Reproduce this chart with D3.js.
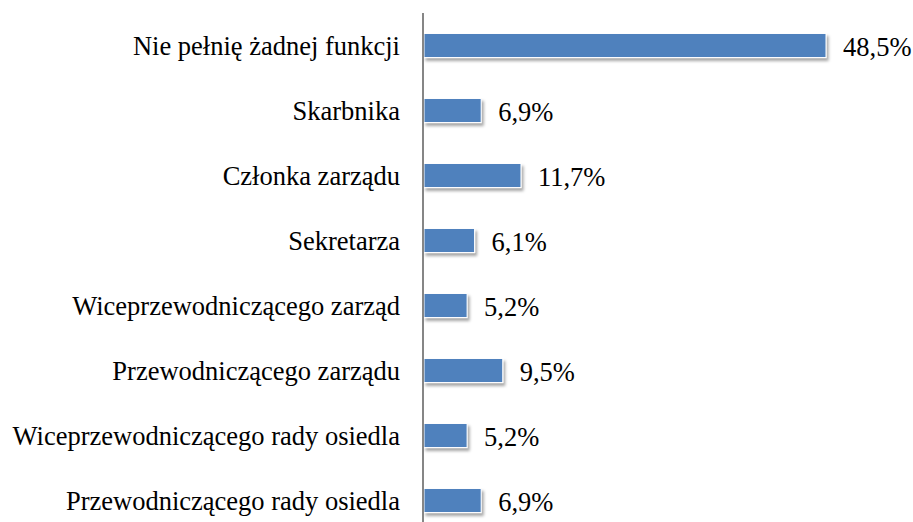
<!DOCTYPE html>
<html>
<head>
<meta charset="utf-8">
<style>
	body { margin: 0; background: #fff; }
</style>
</head>
<body>
<svg width="913" height="522"></svg>
<script src="https://cdnjs.cloudflare.com/ajax/libs/d3/7.8.5/d3.min.js"></script>
<script>

	var categories = [
		"Nie pełnię żadnej funkcji",
		"Skarbnika",
		"Członka zarządu",
		"Sekretarza",
		"Wiceprzewodniczącego zarząd",
		"Przewodniczącego zarządu",
		"Wiceprzewodniczącego rady osiedla",
		"Przewodniczącego rady osiedla"
	];
	var values = [48.5, 6.9, 11.7, 6.1, 5.2, 9.5, 5.2, 6.9];
	var valueLabels = ["48,5%", "6,9%", "11,7%", "6,1%", "5,2%", "9,5%", "5,2%", "6,9%"];

	var fontSize = 26.5;

	var svg = d3.select("svg");
	var x0 = 424;

	var x = d3.scaleLinear().domain([0, 48.5]).range([x0, 826]);
	var y = d3.scaleBand().domain(categories).range([13, 533]).paddingInner(0.63).paddingOuter(0.315);

	var defs = svg.append("defs");
	var f = defs.append("filter").attr("id", "shadow")
		.attr("x", "-10%").attr("y", "-30%").attr("width", "130%").attr("height", "190%");
	f.append("feDropShadow")
		.attr("dx", 2).attr("dy", 3).attr("stdDeviation", 1.8)
		.attr("flood-color", "#000").attr("flood-opacity", 0.35);

	var data = categories.map(function (c, i) { return { cat: c, v: values[i], lab: valueLabels[i] }; });

	svg.append("g").selectAll("rect")
		.data(data)
		.enter().append("rect")
		.attr("x", x(0))
		.attr("y", function (d) { return y(d.cat); })
		.attr("width", function (d) { return x(d.v) - x(0); })
		.attr("height", y.bandwidth())
		.attr("fill", "#4F81BD")
		.attr("stroke", "#fff")
		.attr("stroke-width", 1)
		.attr("filter", "url(#shadow)");

	// axis line
	svg.append("line")
		.attr("x1", x0 - 1).attr("x2", x0 - 1)
		.attr("y1", 13).attr("y2", 522)
		.attr("stroke", "#868686").attr("stroke-width", 2);

	svg.append("g").selectAll("text")
		.data(data)
		.enter().append("text")
		.attr("x", 400)
		.attr("y", function (d) { return y(d.cat) + y.bandwidth() / 2; })
		.attr("dy", "0.35em")
		.attr("text-anchor", "end")
		.style("font-family", "Liberation Serif")
		.style("font-size", fontSize + "px")
		.attr("fill", "#000")
		.text(function (d) { return d.cat; });

	svg.append("g").selectAll("text")
		.data(data)
		.enter().append("text")
		.attr("x", function (d) { return x(d.v) + 17; })
		.attr("y", function (d) { return y(d.cat) + y.bandwidth() / 2 + 1; })
		.attr("dy", "0.35em")
		.style("font-family", "Liberation Serif")
		.style("font-size", fontSize + "px")
		.attr("fill", "#000")
		.text(function (d) { return d.lab; });

</script>
</body>
</html>
